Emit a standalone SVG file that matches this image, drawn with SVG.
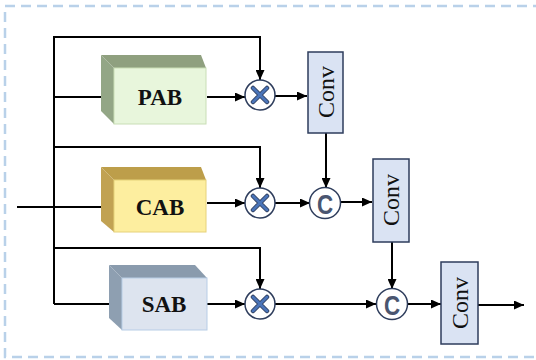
<svg xmlns="http://www.w3.org/2000/svg" width="536" height="360" viewBox="0 0 536 360">
  <style>
    .frame { fill: none; stroke: #b9d1e9; stroke-width: 2.5; stroke-dasharray: 10 6; }
    .wire { fill: none; stroke: #000; stroke-width: 2; }
    .label { font-family: "Liberation Serif", "Times New Roman", serif; font-weight: bold; font-size: 23px; fill: #111; text-anchor: middle; dominant-baseline: central; }
    .conv rect { fill: #dae3f3; stroke: #2e3d5c; stroke-width: 1.5; }
    .conv text { font-family: "Liberation Serif", "Times New Roman", serif; font-size: 24px; fill: #111; text-anchor: middle; dominant-baseline: central; }
    .op circle { fill: #fff; stroke: #2e3d5c; stroke-width: 1.5; }
    .mul path { stroke: #2e3d5c; stroke-width: 4.5; stroke-linecap: round; fill: none; }
    .mul path.in { stroke: #4a74b8; stroke-width: 2.8; }
    .cat text { font-family: "Liberation Sans", Arial, sans-serif; font-weight: bold; font-size: 28px; fill: #4a5670; text-anchor: middle; dominant-baseline: central; }
  </style>
  <defs>
    <marker id="arrow" viewBox="0 0 10 10" refX="10" refY="5" markerWidth="5" markerHeight="4.5" orient="auto" markerUnits="strokeWidth" preserveAspectRatio="none">
      <path d="M0,0 L10,5 L0,10 Z" fill="#000"/>
    </marker>
  </defs>

  <!-- dashed outer frame -->
  <rect class="frame" x="5" y="6" width="545" height="351"/>

  <!-- connectors -->
  <g id="connectors">
    <!-- input -->
    <path class="wire" d="M17,207 H113" marker-end="url(#arrow)"/>
    <!-- trunk -->
    <path class="wire" d="M54,37 V304"/>
    <!-- skip branches into multipliers -->
    <path class="wire" d="M53,37 H260 V80" marker-end="url(#arrow)"/>
    <path class="wire" d="M53,147 H260 V188" marker-end="url(#arrow)"/>
    <path class="wire" d="M54,248 H260 V289" marker-end="url(#arrow)"/>
    <!-- branches into blocks -->
    <path class="wire" d="M54,97 H113" marker-end="url(#arrow)"/>
    <path class="wire" d="M54,304 H121" marker-end="url(#arrow)"/>
    <!-- blocks to multipliers -->
    <path class="wire" d="M207,97 H245" marker-end="url(#arrow)"/>
    <path class="wire" d="M207,203 H245" marker-end="url(#arrow)"/>
    <path class="wire" d="M207,304 H245" marker-end="url(#arrow)"/>
    <!-- multipliers onward -->
    <path class="wire" d="M275,96 H307" marker-end="url(#arrow)"/>
    <path class="wire" d="M275,203 H310" marker-end="url(#arrow)"/>
    <path class="wire" d="M275,304 H376" marker-end="url(#arrow)"/>
    <!-- conv to concat -->
    <path class="wire" d="M326,133 V188" marker-end="url(#arrow)"/>
    <path class="wire" d="M392,242 V289" marker-end="url(#arrow)"/>
    <!-- concat to conv -->
    <path class="wire" d="M340,202 H372" marker-end="url(#arrow)"/>
    <path class="wire" d="M407,304 H441" marker-end="url(#arrow)"/>
    <!-- output -->
    <path class="wire" d="M478,305 H524" marker-end="url(#arrow)"/>
  </g>

  <!-- attention blocks -->
  <g id="pab">
    <polygon points="101,55 201,55 206,68 114,68" fill="#8fa07f"/>
    <polygon points="101,55 114,68 114,124 101,111" fill="#93a686"/>
    <rect x="114" y="68" width="92" height="56" fill="#e8f6dc" stroke="#c9deb6" stroke-width="1"/>
    <text class="label" x="160" y="97">PAB</text>
  </g>
  <g id="cab">
    <polygon points="101,167 201,167 206,180 114,180" fill="#bd9e4a"/>
    <polygon points="101,167 114,180 114,232 101,221" fill="#c1a253"/>
    <rect x="114" y="180" width="92" height="52" fill="#fdee9f" stroke="#e6d27a" stroke-width="1"/>
    <text class="label" x="160" y="207">CAB</text>
  </g>
  <g id="sab">
    <polygon points="109,265 195,265 207,278 122,278" fill="#8a9bad"/>
    <polygon points="109,265 122,278 122,330 109,318" fill="#8e9fb1"/>
    <rect x="122" y="278" width="85" height="52" fill="#dde4ef" stroke="#b7cde6" stroke-width="1"/>
    <text class="label" x="164" y="304">SAB</text>
  </g>

  <!-- element-wise multipliers -->
  <g id="mul1" class="op mul">
    <circle cx="260" cy="95" r="15"/>
    <path d="M253,88 L267,102 M267,88 L253,102"/>
    <path class="in" d="M253,88 L267,102 M267,88 L253,102"/>
  </g>
  <g id="mul2" class="op mul">
    <circle cx="260" cy="203" r="15"/>
    <path d="M253,196 L267,210 M267,196 L253,210"/>
    <path class="in" d="M253,196 L267,210 M267,196 L253,210"/>
  </g>
  <g id="mul3" class="op mul">
    <circle cx="260" cy="304" r="15"/>
    <path d="M253,297 L267,311 M267,297 L253,311"/>
    <path class="in" d="M253,297 L267,311 M267,297 L253,311"/>
  </g>

  <!-- concatenations -->
  <g id="cat1" class="op cat">
    <circle cx="325" cy="203" r="15.5"/>
    <text transform="translate(325,204) scale(0.8,1)">C</text>
  </g>
  <g id="cat2" class="op cat">
    <circle cx="392" cy="304" r="15.5"/>
    <text transform="translate(392,305) scale(0.8,1)">C</text>
  </g>

  <!-- convolutions -->
  <g id="conv1" class="conv">
    <rect x="308" y="52" width="35" height="81"/>
    <text transform="translate(326,92) rotate(-90)">Conv</text>
  </g>
  <g id="conv2" class="conv">
    <rect x="373" y="159" width="36" height="83"/>
    <text transform="translate(391,200) rotate(-90)">Conv</text>
  </g>
  <g id="conv3" class="conv">
    <rect x="441" y="262" width="37" height="82"/>
    <text transform="translate(459.5,303) rotate(-90)">Conv</text>
  </g>
</svg>
